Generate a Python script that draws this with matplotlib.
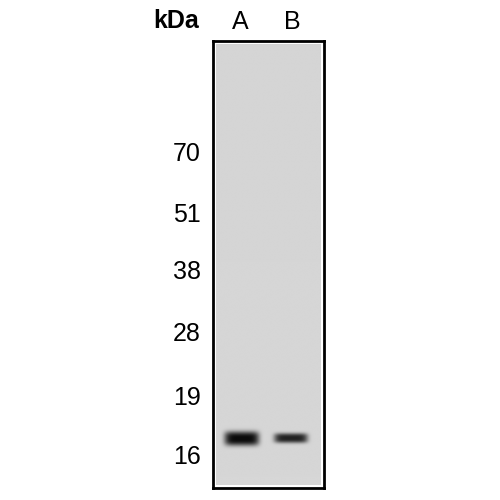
import numpy as np
import matplotlib
matplotlib.use("Agg")
import matplotlib.pyplot as plt

plt.rcParams['font.family'] = ['Liberation Sans', 'DejaVu Sans']

# marker ladder (kDa) and where each ran on the gel (0 = top, 1 = bottom)
marker_labels = ["70", "51", "38", "28", "19", "16"]
marker_pos = [0.248, 0.383, 0.512, 0.651, 0.794, 0.926]

# lanes and the detected band
lanes = ["A", "B"]
lane_x = [0.49, 1.43]
band_pos = [0.895, 0.894]
band_strength = [1.0, 0.88]
band_halfwidth = [0.33, 0.32]
band_halfheight = [0.016, 0.011]

# build the blot picture
nx, ny = 220, 900
xs = np.linspace(0, 2, nx)
ys = np.linspace(0, 1, ny)
X, Y = np.meshgrid(xs, ys)
img = np.full_like(X, 0.84) - 0.008 * (1 - Y)
for cx, cy, s, hw, hh in zip(lane_x, band_pos, band_strength, band_halfwidth, band_halfheight):
    dx = (X - cx) / hw
    dy = (Y - cy) / hh
    d = np.exp(-(np.abs(dx) ** 6 + np.abs(dy) ** 3))
    img = img - s * 0.8 * d
img = np.clip(img, 0, 1)

fig = plt.figure(figsize=(5, 5), dpi=100)
ax = fig.add_axes([0.426, 0.024, 0.222, 0.894])
ax.set_facecolor("white")
ax.imshow(img, cmap="gray", vmin=0, vmax=1, aspect="auto",
          extent=[0.055, 1.945, 0.993, 0.007], interpolation="bilinear")
ax.set_xlim(0, 2)
ax.set_ylim(1, 0)
for sp in ax.spines.values():
    sp.set_linewidth(2.0)
    sp.set_color("black")

ax.set_yticks(marker_pos)
ax.set_yticklabels(marker_labels, fontsize=18)
ax.tick_params(axis="y", length=0, pad=9)
ax.xaxis.tick_top()
ax.set_xticks(lane_x)
ax.set_xticklabels(lanes, fontsize=18)
ax.tick_params(axis="x", length=0, pad=5)

fig.text(0.352, 0.957, "kDa", fontsize=18, fontweight="bold", ha="center", va="center")

fig.savefig("out.png", dpi=100, facecolor="white")
